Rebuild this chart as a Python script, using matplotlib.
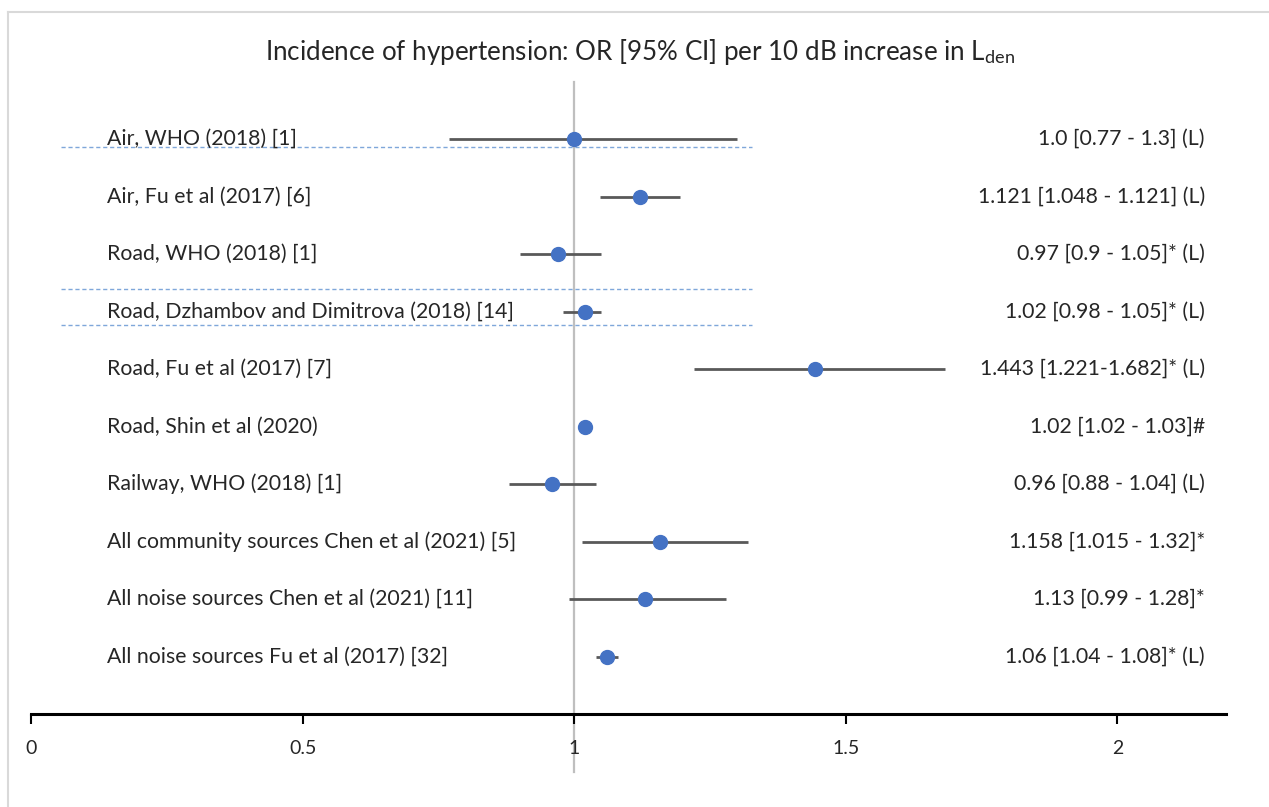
import matplotlib
matplotlib.use("Agg")
import matplotlib.pyplot as plt
from matplotlib.lines import Line2D

plt.rcParams['font.family'] = ['Lato', 'DejaVu Sans']
plt.rcParams['mathtext.fontset'] = 'custom'
plt.rcParams['mathtext.rm'] = 'Lato'
plt.rcParams['mathtext.it'] = 'Lato:italic'

# ---- data ----
study_labels = [
    "Air, WHO (2018) [1]",
    "Air, Fu et al (2017) [6]",
    "Road, WHO (2018) [1]",
    "Road, Dzhambov and Dimitrova (2018) [14]",
    "Road, Fu et al (2017) [7]",
    "Road, Shin et al (2020)",
    "Railway, WHO (2018) [1]",
    "All community sources Chen et al (2021) [5]",
    "All noise sources Chen et al (2021) [11]",
    "All noise sources Fu et al (2017) [32]",
]
estimates = [1.0, 1.121, 0.97, 1.02, 1.443, 1.02, 0.96, 1.158, 1.13, 1.06]
lower_ci = [0.77, 1.048, 0.90, 0.98, 1.221, 1.02, 0.88, 1.015, 0.99, 1.04]
upper_ci = [1.30, 1.195, 1.05, 1.05, 1.682, 1.03, 1.04, 1.32, 1.28, 1.08]
value_texts = [
    "1.0 [0.77 - 1.3] (L)",
    "1.121 [1.048 - 1.121] (L)",
    "0.97 [0.9 - 1.05]* (L)",
    "1.02 [0.98 - 1.05]* (L)",
    "1.443 [1.221-1.682]* (L)",
    "1.02 [1.02 - 1.03]#",
    "0.96 [0.88 - 1.04] (L)",
    "1.158 [1.015 - 1.32]*",
    "1.13 [0.99 - 1.28]*",
    "1.06 [1.04 - 1.08]* (L)",
]
x_ticks = [0, 0.5, 1, 1.5, 2]
x_tick_labels = ["0", "0.5", "1", "1.5", "2"]
reference_x = 1.0
divider_rows = [0.14, 2.61, 3.24]
divider_x = [0.056, 1.328]
title = r"Incidence of hypertension: OR [95% CI] per 10 dB increase in L$_{\mathrm{den}}$"

# ---- figure ----
W, H = 1269, 807
fig = plt.figure(figsize=(W / 100, H / 100), dpi=100)
ax = fig.add_axes([31 / W, (H - 714) / H, (1226 - 31) / W, (714 - 70) / H])
rows = list(range(len(study_labels)))
ax.set_xlim(0, 2.2)
ax.set_ylim(10, -1.2)

# reference line
ax.plot([reference_x, reference_x], [-1, 11], color='#BFBFBF', lw=1.6,
        clip_on=False, zorder=1)

# dividers
for r in divider_rows:
    ax.plot(divider_x, [r, r], color='#7FA7DA', lw=1.0, ls=(0, (3, 2)), zorder=1)

ax.hlines(rows, lower_ci, upper_ci, color='#595959', lw=2.0, zorder=2)
ax.plot(estimates, rows, 'o', ms=10, color='#4472C4', mec='#4472C4', zorder=3)

for r, lab, val in zip(rows, study_labels, value_texts):
    ax.text(0.14, r, lab, ha='left', va='center', fontsize=15.3, color='#262626')
    ax.text(2.161, r, val, ha='right', va='center', fontsize=15.3, color='#262626')

for s in ['top', 'right', 'left']:
    ax.spines[s].set_visible(False)
ax.spines['bottom'].set_linewidth(2.2)
ax.spines['bottom'].set_color('black')
ax.set_yticks([])
ax.set_xticks(x_ticks)
ax.set_xticklabels(x_tick_labels)
ax.tick_params(axis='x', direction='out', length=7, width=1.5, color='black',
               labelsize=14, pad=12, labelcolor='#262626')
ax.patch.set_alpha(0)

fig.text(640 / W, 1 - 52 / H, title, ha='center', va='center', fontsize=18.7,
         color='#262626')

# chart frame
fig.add_artist(Line2D([7.5 / W, 1.0], [1 - 12 / H, 1 - 12 / H],
                      transform=fig.transFigure, color='#D9D9D9', lw=1.5))
fig.add_artist(Line2D([7.5 / W, 7.5 / W], [1 - 12 / H, 0],
                      transform=fig.transFigure, color='#D9D9D9', lw=1.5))

fig.savefig("out.png", dpi=100)
